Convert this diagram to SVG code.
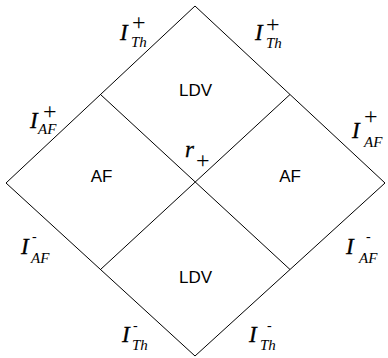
<svg xmlns="http://www.w3.org/2000/svg" width="388" height="358" viewBox="0 0 388 358">
<style>
.ln{fill:none;stroke:#000;stroke-width:1}
.lab{font-family:"Liberation Sans",Arial,sans-serif;font-size:17px;fill:#000;text-anchor:middle}
.I{font-family:"Liberation Serif","Times New Roman",serif;font-style:italic;font-size:23px;fill:#000;stroke:#000;stroke-width:0.3}
.sub{font-family:"Liberation Serif","Times New Roman",serif;font-style:italic;font-size:15px;fill:#000}
.sup{font-family:"Liberation Serif","Times New Roman",serif;font-size:24px;fill:#000}
.mn{font-family:"Liberation Serif","Times New Roman",serif;font-size:14px;fill:#000}
</style>
<rect width="388" height="358" fill="#fff"/>
<g id="connectors">
<path class="ln" d="M195,6 L385,183 L195,356 L6,183 Z"/>
<path class="ln" d="M100.5,94.5 L290,269.5"/>
<path class="ln" d="M290,94.5 L100.5,269.5"/>
</g>
<g id="region-ldv-top"><text class="lab" x="195.5" y="96">LDV</text></g>
<g id="region-af-left"><text class="lab" x="101.5" y="182">AF</text></g>
<g id="region-af-right"><text class="lab" x="290" y="182">AF</text></g>
<g id="region-ldv-bottom"><text class="lab" x="195.5" y="283">LDV</text></g>
<g id="label-r"><text class="I" x="185" y="157">r</text><text class="sup" x="196" y="168">+</text></g>
<g id="label-th-plus-left"><text class="I" x="120" y="40">I</text><text class="sup" x="132" y="30">+</text><text class="sub" x="131" y="47">Th</text></g>
<g id="label-th-plus-right"><text class="I" x="255" y="40">I</text><text class="sup" x="266" y="32">+</text><text class="sub" x="266" y="48">Th</text></g>
<g id="label-af-plus-left"><text class="I" x="30" y="128">I</text><text class="sup" x="43" y="119">+</text><text class="sub" x="38" y="134">AF</text></g>
<g id="label-af-plus-right"><text class="I" x="352" y="138">I</text><text class="sup" x="364" y="124">+</text><text class="sub" x="364" y="147">AF</text></g>
<g id="label-af-minus-left"><text class="I" x="21" y="254">I</text><text class="mn" x="32" y="241">-</text><text class="sub" x="31" y="263">AF</text></g>
<g id="label-af-minus-right"><text class="I" x="346" y="254">I</text><text class="mn" x="366" y="241">-</text><text class="sub" x="359" y="263">AF</text></g>
<g id="label-th-minus-left"><text class="I" x="122" y="342">I</text><text class="mn" x="133" y="330">-</text><text class="sub" x="132" y="350">Th</text></g>
<g id="label-th-minus-right"><text class="I" x="249" y="342">I</text><text class="mn" x="267" y="330">-</text><text class="sub" x="260" y="350">Th</text></g>
</svg>
